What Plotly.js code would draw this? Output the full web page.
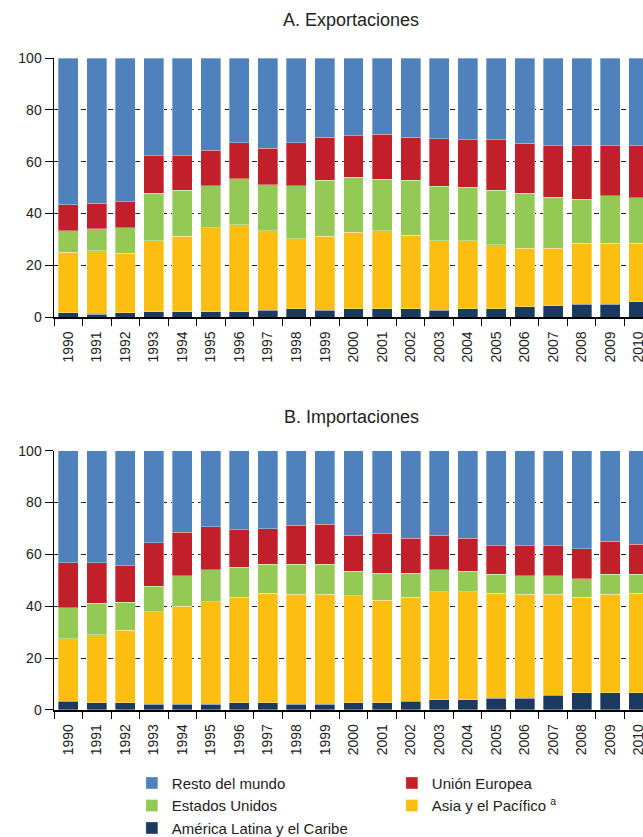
<!DOCTYPE html>
<html>
<head>
<meta charset="utf-8">
<script src="https://cdn.plot.ly/plotly-3.0.1.min.js"></script>
<style>
  html, body { margin: 0; padding: 0; overflow: hidden; background: #fff; }
  #chart { width: 653px; height: 837px; }
</style>
</head>
<body>
<div id="chart"></div>
<script>
// Categories
const years = ["1990","1991","1992","1993","1994","1995","1996","1997","1998","1999","2000",
               "2001","2002","2003","2004","2005","2006","2007","2008","2009","2010"];

// Series names
const seriesNames = ["América Latina y el Caribe", "Asia y el Pacífico <sup>a</sup>", "Estados Unidos", "Unión Europea", "Resto del mundo"];

// A. Exportaciones (percent shares)
const expLAC   = [1.8,1.2,1.8,2.2,2.2,2.2,2.2,2.8,3.3,2.8,3.3,3.3,3.3,2.8,3.3,3.3,4.0,4.5,5.0,5.0,6.0];
const expAsia  = [23.3,24.5,22.9,27.4,29.0,32.4,33.4,30.6,26.9,28.4,29.5,30.1,28.4,26.8,26.3,24.6,22.7,22.2,23.5,23.5,22.5];
const expUS    = [8.3,8.4,9.9,18.2,17.8,16.2,17.9,17.8,20.6,21.6,21.2,19.9,21.1,21.0,20.5,21.1,21.1,19.6,17.1,18.3,17.6];
const expEU    = [10.0,9.9,10.0,14.5,13.3,13.6,13.9,14.0,16.6,16.6,16.1,17.3,16.6,18.3,18.3,19.4,19.4,19.9,20.6,19.4,20.1];
const expRest  = [56.6,56.0,55.4,37.7,37.7,35.6,32.6,34.8,32.6,30.6,29.9,29.4,30.6,31.1,31.6,31.6,32.8,33.8,33.8,33.8,33.8];

// B. Importaciones (percent shares)
const impLAC   = [3.3,2.8,2.8,2.3,2.3,2.3,2.8,2.8,2.3,2.3,2.8,2.8,3.3,3.9,3.9,4.5,4.5,5.7,6.7,6.7,6.7];
const impAsia  = [24.1,26.2,27.9,35.6,37.7,39.5,40.6,42.3,42.3,42.3,41.2,39.6,40.1,41.7,41.7,40.6,40.1,38.9,36.7,37.9,38.4];
const impUS    = [12.1,12.1,10.9,9.9,11.7,12.2,11.7,11.1,11.6,11.6,9.5,10.4,9.4,8.4,7.9,7.2,7.2,7.2,7.2,7.7,7.2];
const impEU    = [17.3,15.7,14.1,16.7,16.8,16.7,14.4,13.7,15.0,15.5,13.9,15.1,13.4,13.4,12.7,11.1,11.6,11.6,11.6,12.7,11.7];
const impRest  = [43.2,43.2,44.3,35.5,31.5,29.3,30.5,30.1,28.8,28.3,32.6,32.1,33.8,32.6,33.8,36.6,36.6,36.6,37.8,35.0,36.0];

const colors = ["#1B3A5F", "#FDBE12", "#95C955", "#C1202A", "#4F81BD"];
const ranks = [5, 4, 3, 2, 1];

const expSeries = [expLAC, expAsia, expUS, expEU, expRest];
const impSeries = [impLAC, impAsia, impUS, impEU, impRest];

const traces = [];
expSeries.forEach((vals, i) => {
  traces.push({
    type: "bar", x: years, y: vals, name: seriesNames[i],
    xaxis: "x", yaxis: "y",
    marker: { color: colors[i], line: { color: "rgba(255,255,255,0.55)", width: 0.6 } },
    legendrank: ranks[i], legendgroup: "g" + i, showlegend: true,
    hoverinfo: "x+y+name"
  });
});
impSeries.forEach((vals, i) => {
  traces.push({
    type: "bar", x: years, y: vals, name: seriesNames[i],
    xaxis: "x2", yaxis: "y2",
    marker: { color: colors[i], line: { color: "rgba(255,255,255,0.55)", width: 0.6 } },
    legendrank: ranks[i], legendgroup: "g" + i, showlegend: false,
    hoverinfo: "x+y+name"
  });
});

const fontFam = "'Liberation Sans', Arial, Helvetica, sans-serif";

const yax = {
  range: [0, 100], dtick: 20, tick0: 0, fixedrange: true,
  showline: true, linecolor: "#000", linewidth: 1.5,
  ticks: "outside", ticklen: 8, tickcolor: "#000", tickwidth: 1,
  showgrid: true, gridcolor: "#222", gridwidth: 1, griddash: "5px,4px",
  zeroline: false,
  tickfont: { family: fontFam, size: 14, color: "#222" }
};
const xax = {
  type: "category", fixedrange: true,
  showline: true, linecolor: "#000", linewidth: 1.5,
  ticks: "outside", ticklen: 7, tickcolor: "#000", tickwidth: 1,
  tickson: "boundaries", tickangle: -90, ticklabelstandoff: 7,
  showgrid: false, zeroline: false,
  tickfont: { family: fontFam, size: 14, color: "#222" }
};

const layout = {
  width: 653, height: 837,
  margin: { l: 54, r: 0, t: 58, b: 127, autoexpand: false },
  paper_bgcolor: "#fff", plot_bgcolor: "#fff",
  barmode: "stack", bargap: 0.3,
  font: { family: fontFam, color: "#222" },
  xaxis: Object.assign({}, xax, { anchor: "y", domain: [0, 1] }),
  yaxis: Object.assign({}, yax, { anchor: "x", domain: [0.6023, 1] }),
  xaxis2: Object.assign({}, xax, { anchor: "y2", domain: [0, 1] }),
  yaxis2: Object.assign({}, yax, { anchor: "x2", domain: [0, 0.3977] }),
  showlegend: true,
  legend: {
    orientation: "h", x: 0.13, xanchor: "left", y: -0.087, yanchor: "top",
    entrywidth: 215, entrywidthmode: "pixels",
    font: { family: fontFam, size: 15, color: "#222" },
    traceorder: "normal", bgcolor: "rgba(0,0,0,0)"
  },
  annotations: [
    { text: "A. Exportaciones", xref: "paper", yref: "paper", x: 0.496, y: 1.0583,
      xanchor: "center", yanchor: "middle", showarrow: false,
      font: { family: fontFam, size: 18, color: "#222" } },
    { text: "B. Importaciones", xref: "paper", yref: "paper", x: 0.496, y: 0.449,
      xanchor: "center", yanchor: "middle", showarrow: false,
      font: { family: fontFam, size: 18, color: "#222" } }
  ]
};

Plotly.newPlot("chart", traces, layout, { displayModeBar: false, staticPlot: true });
</script>
</body>
</html>
